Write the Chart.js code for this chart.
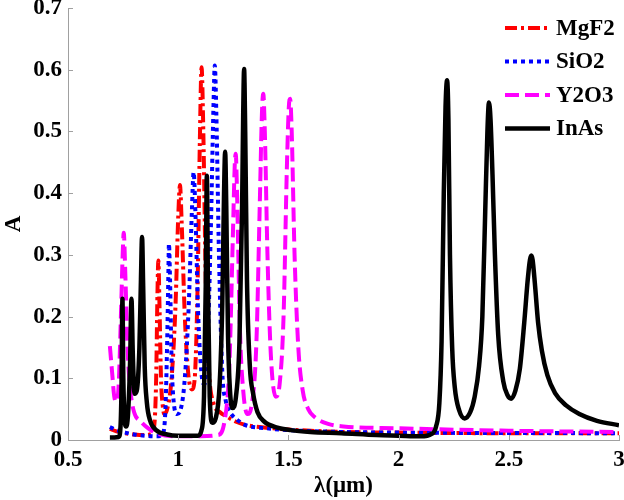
<!DOCTYPE html>
<html>
<head>
<meta charset="utf-8">
<script src="https://cdn.jsdelivr.net/npm/chart.js@4.4.1/dist/chart.umd.min.js"></script>
<style>
  html, body { margin: 0; padding: 0; background: #fff; }
  #wrap { position: relative; width: 624px; height: 500px; }
  #chart { position: absolute; left: 0; top: 0; }
  #probe { position: absolute; left: 0; top: 0; color: #fff; font: bold 23px "Liberation Serif"; }
</style>
</head>
<body>
<div id="wrap">
  <div id="probe">0.7 MgF2 A λ(μm)</div>
  <canvas id="chart" width="624" height="500"></canvas>
</div>
<script>
// wavelength (um) / absorption values
const mgf2X = [0.69, 0.72, 0.76, 0.8, 0.85, 0.88, 0.893, 0.9, 0.906, 0.91, 0.915, 0.922, 0.93, 0.937, 0.95, 0.97, 0.988, 1.0, 1.008, 1.016, 1.03, 1.045, 1.062, 1.075, 1.088, 1.098, 1.106, 1.114, 1.125, 1.14, 1.16, 1.19, 1.22, 1.26, 1.3, 1.4, 1.5, 1.75, 2.0, 2.5, 3.0];
const mgf2Y = [0.018, 0.014, 0.011, 0.009, 0.008, 0.01, 0.03, 0.1, 0.24, 0.291, 0.22, 0.1, 0.055, 0.042, 0.05, 0.1, 0.22, 0.36, 0.413, 0.35, 0.2, 0.11, 0.082, 0.1, 0.25, 0.48, 0.604, 0.5, 0.26, 0.11, 0.06, 0.045, 0.038, 0.03, 0.025, 0.02, 0.017, 0.013, 0.012, 0.011, 0.011];

const sio2X = [0.69, 0.72, 0.76, 0.8, 0.85, 0.9, 0.93, 0.942, 0.95, 0.955, 0.958, 0.963, 0.97, 0.98, 0.995, 1.01, 1.03, 1.048, 1.062, 1.07, 1.078, 1.09, 1.105, 1.118, 1.132, 1.148, 1.16, 1.166, 1.173, 1.185, 1.2, 1.215, 1.235, 1.254, 1.3, 1.4, 1.5, 1.75, 2.0, 3.0];
const sio2Y = [0.021, 0.016, 0.012, 0.009, 0.007, 0.006, 0.01, 0.05, 0.16, 0.26, 0.318, 0.26, 0.13, 0.06, 0.042, 0.048, 0.1, 0.22, 0.37, 0.434, 0.37, 0.21, 0.11, 0.09, 0.14, 0.34, 0.54, 0.607, 0.53, 0.3, 0.11, 0.065, 0.045, 0.037, 0.025, 0.019, 0.016, 0.013, 0.012, 0.011];

const y2o3X = [0.69, 0.7, 0.71, 0.72, 0.73, 0.74, 0.748, 0.753, 0.76, 0.77, 0.785, 0.8, 0.83, 0.86, 0.9, 1.0, 1.1, 1.18, 1.21, 1.232, 1.248, 1.257, 1.261, 1.267, 1.28, 1.295, 1.314, 1.335, 1.355, 1.37, 1.38, 1.386, 1.393, 1.405, 1.42, 1.443, 1.46, 1.478, 1.493, 1.502, 1.508, 1.515, 1.528, 1.545, 1.565, 1.59, 1.62, 1.68, 1.75, 2.0, 2.5, 3.0];
const y2o3Y = [0.152, 0.11, 0.07, 0.062, 0.09, 0.2, 0.3, 0.336, 0.27, 0.15, 0.075, 0.045, 0.03, 0.02, 0.011, 0.006, 0.006, 0.008, 0.03, 0.12, 0.33, 0.45, 0.464, 0.4, 0.18, 0.08, 0.042, 0.06, 0.16, 0.38, 0.53, 0.561, 0.5, 0.3, 0.14, 0.07, 0.09, 0.2, 0.44, 0.54, 0.553, 0.5, 0.3, 0.15, 0.08, 0.05, 0.037, 0.026, 0.022, 0.019, 0.015, 0.013];

const inasX = [0.69, 0.73, 0.738, 0.743, 0.747, 0.751, 0.756, 0.763, 0.772, 0.782, 0.788, 0.794, 0.802, 0.812, 0.824, 0.831, 0.836, 0.841, 0.848, 0.858, 0.872, 0.9, 0.95, 1.0, 1.09, 1.105, 1.117, 1.125, 1.13, 1.135, 1.143, 1.155, 1.17, 1.188, 1.2, 1.208, 1.213, 1.218, 1.226, 1.235, 1.246, 1.262, 1.278, 1.29, 1.295, 1.299, 1.304, 1.312, 1.325, 1.34, 1.36, 1.39, 1.45, 1.51, 1.6, 1.74, 1.9, 2.0, 2.1, 2.15, 2.17, 2.185, 2.195, 2.205, 2.213, 2.22, 2.226, 2.233, 2.243, 2.255, 2.275, 2.3, 2.325, 2.345, 2.365, 2.38, 2.393, 2.403, 2.41, 2.417, 2.426, 2.437, 2.452, 2.475, 2.495, 2.511, 2.53, 2.55, 2.57, 2.586, 2.596, 2.602, 2.608, 2.618, 2.633, 2.65, 2.675, 2.71, 2.76, 2.82, 2.9, 3.0];
const inasY = [0.004, 0.005, 0.02, 0.09, 0.229, 0.1, 0.04, 0.022, 0.04, 0.13, 0.229, 0.14, 0.075, 0.08, 0.15, 0.26, 0.329, 0.25, 0.12, 0.06, 0.032, 0.016, 0.009, 0.007, 0.007, 0.015, 0.07, 0.25, 0.428, 0.25, 0.07, 0.028, 0.035, 0.09, 0.22, 0.4, 0.467, 0.38, 0.17, 0.08, 0.052, 0.07, 0.16, 0.38, 0.53, 0.601, 0.5, 0.26, 0.12, 0.075, 0.045, 0.03, 0.02, 0.016, 0.013, 0.011, 0.008, 0.007, 0.006, 0.01, 0.022, 0.06, 0.16, 0.4, 0.54, 0.583, 0.52, 0.3, 0.15, 0.085, 0.048, 0.035, 0.045, 0.07, 0.12, 0.2, 0.37, 0.5, 0.547, 0.52, 0.43, 0.3, 0.17, 0.095, 0.072, 0.067, 0.08, 0.115, 0.19, 0.26, 0.292, 0.299, 0.292, 0.255, 0.19, 0.145, 0.105, 0.076, 0.056, 0.042, 0.031, 0.024];

const seriesNames = ["MgF2", "SiO2", "Y2O3", "InAs"];
const xTicks = [0.5, 1, 1.5, 2, 2.5, 3];
const yTicks = [0, 0.1, 0.2, 0.3, 0.4, 0.5, 0.6, 0.7];

const FONT = "Liberation Serif";
Chart.defaults.font.family = FONT;

const toPoints = (xs, ys) => xs.map((x, i) => ({ x: x, y: ys[i] }));

// legend drawn inside the plot, top right
const insideLegend = {
  id: "insideLegend",
  afterDraw(chart) {
    const ctx = chart.ctx;
    ctx.save();
    ctx.font = 'bold 23px "Liberation Serif"';
    ctx.textBaseline = "middle";
    chart.data.datasets.forEach((ds, i) => {
      const y = 28 + i * 33.5;
      ctx.beginPath();
      ctx.strokeStyle = ds.borderColor;
      ctx.lineWidth = ds.borderWidth;
      ctx.setLineDash(ds.borderDash || []);
      ctx.moveTo(505, y);
      ctx.lineTo(550, y);
      ctx.stroke();
      ctx.setLineDash([]);
      ctx.fillStyle = "#000";
      ctx.fillText(ds.label, 556, y + 1);
    });
    ctx.restore();
  },
};

// small inward tick marks like the original figure
const inwardTicks = {
  id: "inwardTicks",
  afterDraw(chart) {
    const ctx = chart.ctx;
    const xs = chart.scales.x;
    const ys = chart.scales.y;
    ctx.save();
    ctx.strokeStyle = "#a0a0a0";
    ctx.lineWidth = 1;
    yTicks.forEach((v) => {
      const p = Math.round(ys.getPixelForValue(v)) + 0.5;
      ctx.beginPath();
      ctx.moveTo(xs.left, p);
      ctx.lineTo(xs.left + 5, p);
      ctx.stroke();
    });
    xTicks.forEach((v) => {
      const p = Math.round(xs.getPixelForValue(v)) + 0.5;
      ctx.beginPath();
      ctx.moveTo(p, ys.bottom);
      ctx.lineTo(p, ys.bottom - 5);
      ctx.stroke();
    });
    ctx.restore();
  },
};

function draw() {
  new Chart(document.getElementById("chart"), {
    type: "line",
    data: {
      datasets: [
        {
          label: seriesNames[0],
          data: toPoints(mgf2X, mgf2Y),
          borderColor: "#ff0000",
          borderWidth: 4,
          borderDash: [12, 4, 3, 4],
          order: 4,
        },
        {
          label: seriesNames[1],
          data: toPoints(sio2X, sio2Y),
          borderColor: "#0000ff",
          borderWidth: 4,
          borderDash: [4, 4],
          order: 3,
        },
        {
          label: seriesNames[2],
          data: toPoints(y2o3X, y2o3Y),
          borderColor: "#ff00ff",
          borderWidth: 4,
          borderDash: [14, 6],
          order: 2,
        },
        {
          label: seriesNames[3],
          data: toPoints(inasX, inasY),
          borderColor: "#000000",
          borderWidth: 4.5,
          order: 1,
        },
      ],
    },
    options: {
      responsive: false,
      animation: false,
      layout: { padding: { left: 0, right: 0, top: 0, bottom: 0 } },
      elements: {
        point: { radius: 0 },
        line: { cubicInterpolationMode: "monotone", fill: false },
      },
      plugins: {
        legend: { display: false },
        tooltip: { enabled: false },
      },
      scales: {
        x: {
          type: "linear",
          min: 0.5,
          max: 3,
          afterBuildTicks: (s) => { s.ticks = xTicks.map((v) => ({ value: v })); },
          afterFit: (s) => { s.height = 60; s.paddingRight = 5; },
          ticks: {
            color: "#000",
            padding: 6,
            maxRotation: 0,
            font: { family: FONT, size: 23, weight: "bold" },
            callback: (v) => String(+v.toFixed(2)),
          },
          grid: { display: false, drawTicks: false },
          border: { display: true, color: "#a0a0a0", width: 1 },
          title: {
            display: true,
            text: "λ(μm)",
            color: "#000",
            padding: { top: 0, bottom: 0 },
            font: { family: FONT, size: 23, weight: "bold" },
          },
        },
        y: {
          min: 0,
          max: 0.7,
          afterBuildTicks: (s) => { s.ticks = yTicks.map((v) => ({ value: v })); },
          afterFit: (s) => { s.width = 68; s.paddingTop = 8; },
          ticks: {
            color: "#000",
            padding: 6,
            font: { family: FONT, size: 23, weight: "bold" },
            callback: (v) => String(+v.toFixed(2)),
          },
          grid: { display: false, drawTicks: false },
          border: { display: true, color: "#a0a0a0", width: 1 },
          title: {
            display: true,
            text: "A",
            color: "#000",
            padding: { top: 0, bottom: 0 },
            font: { family: FONT, size: 23, weight: "bold" },
          },
        },
      },
    },
    plugins: [inwardTicks, insideLegend],
  });
}

document.fonts.ready.then(() => requestAnimationFrame(draw));
</script>
</body>
</html>
